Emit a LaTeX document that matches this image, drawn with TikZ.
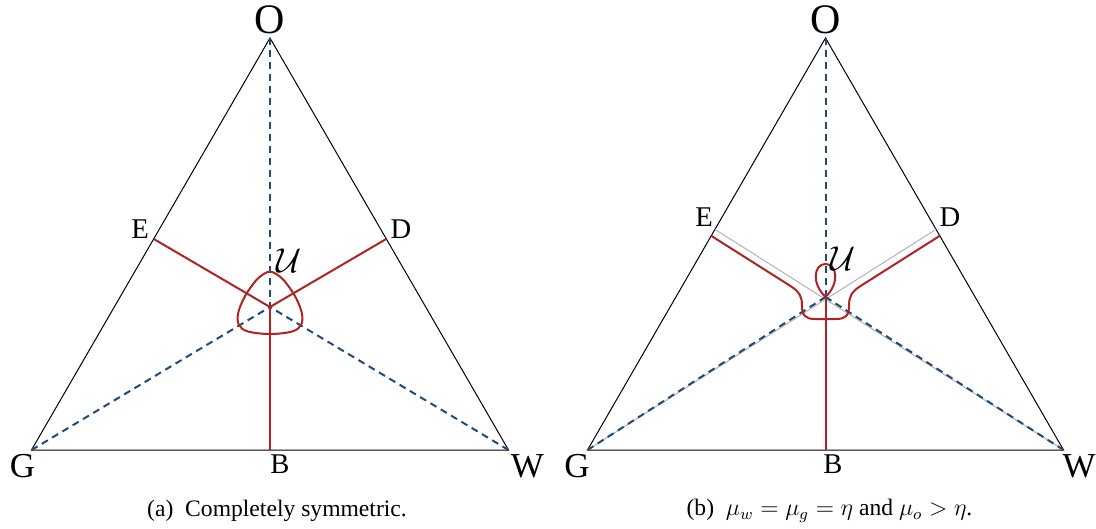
\documentclass[tikz,border=0pt]{standalone}
\usepackage{fontspec}
\setmainfont{Liberation Serif}
\definecolor{pathred}{RGB}{178,34,34}
\definecolor{lineblue}{RGB}{30,75,125}

\begin{document}
\begin{tikzpicture}[x=0.5pt, y=-0.5pt,
    side/.style={black, line width=0.5pt},
    median/.style={lineblue, line width=1pt, dash pattern=on 3.5pt off 2.5pt},
    front/.style={pathred, line width=1pt},
    guide/.style={black!30, line width=0.5pt},
    apex/.style={inner sep=0pt, font=\fontsize{21}{24}\selectfont},
    corner/.style={inner sep=0pt, font=\fontsize{17.5}{20}\selectfont},
    sidelabel/.style={inner sep=0pt, font=\fontsize{14.3}{16}\selectfont},
    setlabel/.style={inner sep=0pt, font=\fontsize{16}{18}\selectfont},
    caption/.style={inner sep=0pt, font=\fontsize{11.8}{14}\selectfont}]
    \useasboundingbox (0,0) rectangle (1096,529);

    % (a) Ecken und Punkte
    \coordinate (Ga) at (31.5,450);
    \coordinate (Wa) at (508.5,450);
    \coordinate (Oa) at (270,38);
    \coordinate (Ba) at (270,450);
    \coordinate (Ea) at (153.8,239);
    \coordinate (Da) at (386.2,239);
    \coordinate (Ua) at (270,307);

    % (a) Dreieck und Mediane
    \draw[side] (Ga) -- (Wa) -- (Oa) -- cycle;
    \draw[median] (Oa) -- (Ua);
    \draw[median] (Ga) -- (Ua);
    \draw[median] (Wa) -- (Ua);

    % (a) Kurven
    \draw[front] (Ea) -- (Ua) -- (Da);
    \draw[front] (Ua) -- (Ba);
    \draw[front] plot[smooth cycle, tension=0.6] coordinates {
        (270,271.7) (281,277.5) (290,288.3) (297,300) (302,314) (301,325)
        (292,331.5) (270,334) (248,331.5) (239,325) (238,314) (243,300)
        (250,288.3) (259,277.5)};

    % (a) Beschriftung
    \node[apex] (labOa) at (269.5,20) {O};
    \node[corner] (labGa) at (22.5,466) {G};
    \node[corner] (labWa) at (527.5,466) {W};
    \node[sidelabel] (labBa) at (280,464) {B};
    \node[sidelabel] (labEa) at (140,229.5) {E};
    \node[sidelabel] (labDa) at (401,229.5) {D};
    \node[setlabel] (labUa) at (289,261) {$\mathcal{U}$};
    \node[caption] (capa) at (277,511) {(a)\enspace Completely symmetric.};

    % (b) Ecken und Punkte
    \coordinate (Gb) at (587.5,450);
    \coordinate (Wb) at (1063.5,450);
    \coordinate (Ob) at (825.5,38);
    \coordinate (Bb) at (825.5,450);
    \coordinate (Eb) at (715,229.4);
    \coordinate (Db) at (936,229.4);
    \coordinate (Ub) at (825.5,297);
    \coordinate (Er) at (711.5,236);
    \coordinate (Dr) at (939.5,236);

    % (b) Dreieck, Hilfslinien und Mediane
    \draw[side] (Gb) -- (Wb) -- (Ob) -- cycle;
    \draw[guide] (Eb) -- (Wb);
    \draw[guide] (Db) -- (Gb);
    \draw[median] (Ob) -- (Ub);
    \draw[median] (Gb) -- (Ub);
    \draw[median] (Wb) -- (Ub);

    % (b) Kurven
    \draw[front] (Er) -- (790,285.7) .. controls (800,292) and (802,297) .. (802,306)
        .. controls (802,316) and (806,319) .. (815,319) -- (836,319)
        .. controls (845,319) and (849,316) .. (849,306)
        .. controls (849,297) and (851,292) .. (861,285.7) -- (Dr);
    \draw[front] (Ub) .. controls (811,283) and (814,264) .. (825.5,264)
        .. controls (837,264) and (840,283) .. (Ub);
    \draw[front] (Ub) -- (Bb);

    % (b) Beschriftung
    \node[apex] (labOb) at (825.5,20) {O};
    \node[corner] (labGb) at (577,466) {G};
    \node[corner] (labWb) at (1079,466) {W};
    \node[sidelabel] (labBb) at (833,464) {B};
    \node[sidelabel] (labEb) at (704,217) {E};
    \node[sidelabel] (labDb) at (950,217) {D};
    \node[setlabel] (labUb) at (843,259) {$\mathcal{U}$};
    \node[caption] (capb) at (829.5,511) {(b)\enspace $\mu_w = \mu_g = \eta$ and $\mu_o > \eta$.};
\end{tikzpicture}
\end{document}
